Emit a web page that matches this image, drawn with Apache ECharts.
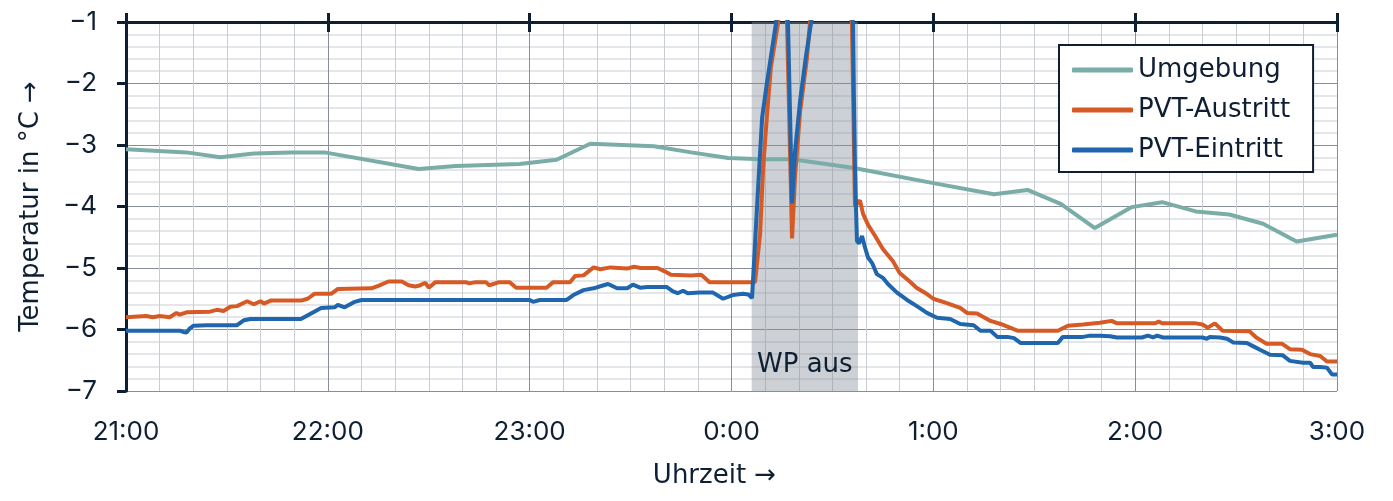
<!DOCTYPE html>
<html>
<head>
<meta charset="utf-8">
<script src="https://cdn.jsdelivr.net/npm/echarts@6/dist/echarts.min.js"></script>
<style>
html,body{margin:0;padding:0;background:#fff;}
#chart{width:1393px;height:501px;}
</style>
</head>
<body>
<div id="chart"></div>
<script>
// time in minutes after 21:00
const xTickHours = [21, 22, 23, 0, 1, 2, 3];
const seriesNames = ['Umgebung', 'PVT-Austritt', 'PVT-Eintritt'];
const wpAus = [186, 217.6];

const umgebung = [
  [0,-3.07],[18,-3.12],[28,-3.2],[38,-3.14],[49,-3.12],[59,-3.12],[87,-3.39],[98,-3.34],
  [117,-3.31],[128,-3.24],[138,-2.98],[157,-3.02],[168,-3.12],[179,-3.21],[189,-3.23],
  [198,-3.23],[216,-3.37],[240,-3.62],[258,-3.8],[268,-3.73],[278,-3.96],[288,-4.35],
  [299,-4.01],[308,-3.93],[318,-4.08],[328,-4.13],[338,-4.28],[348,-4.57],[360,-4.46]
];

const austritt = [
  [0,-5.8],[6,-5.78],[8,-5.8],[10,-5.78],[13,-5.8],[15,-5.73],[16,-5.76],[18,-5.72],[25,-5.71],
  [27,-5.68],[29,-5.7],[31,-5.63],[33,-5.62],[36,-5.54],[38,-5.59],[40,-5.54],[41,-5.58],
  [43,-5.53],[52,-5.53],[54,-5.5],[56,-5.42],[61,-5.42],[63,-5.34],[73,-5.33],[75,-5.29],
  [78,-5.22],[82,-5.22],[84,-5.28],[86,-5.3],[87,-5.29],[89,-5.24],[90,-5.32],[92,-5.23],
  [101,-5.23],[102,-5.25],[104,-5.23],[107,-5.23],[108,-5.28],[111,-5.23],[114,-5.23],
  [116,-5.32],[125,-5.32],[127,-5.23],[132,-5.23],[133.5,-5.13],[136,-5.12],[139,-4.99],
  [141,-5.02],[144,-4.99],[149,-5.01],[151,-4.98],[153,-5.0],[158,-5.0],[160,-5.05],
  [162,-5.11],[168,-5.12],[171,-5.11],[173.5,-5.23],[187,-5.23],
  [188.5,-4.45],[189.4,-3.37],[190.5,-2.55],[191.7,-1.74],[193.8,-1.03],[195.3,0],
  [196.5,-1.0],[198,-4.52],[198.9,-3.5],[200.4,-2.45],[202.4,-1.6],[203.3,-1.03],[209,1],
  [215.8,-1.0],[216.7,-4.0],[218.2,-3.9],[219.1,-4.12],[220.6,-4.3],[222.7,-4.48],[225,-4.69],
  [228,-4.89],[230,-5.08],[233,-5.22],[235,-5.32],[238,-5.42],[240,-5.5],[244,-5.57],
  [248,-5.65],[250,-5.73],[253,-5.74],[257,-5.86],[260,-5.91],[265,-6.02],[277,-6.02],
  [280,-5.94],[284.5,-5.92],[289.5,-5.89],[293,-5.86],[294.6,-5.9],[306,-5.9],[307,-5.87],
  [308,-5.9],[318,-5.9],[320,-5.92],[321.6,-5.97],[323.7,-5.9],[326,-6.02],[334,-6.03],
  [336,-6.13],[339,-6.23],[343.6,-6.23],[346,-6.32],[349.6,-6.33],[352,-6.4],[355,-6.43],
  [357,-6.52],[360,-6.52]
];

const eintritt = [
  [0,-6.02],[16,-6.02],[17,-6.04],[18,-6.05],[19,-5.98],[20,-5.94],[24,-5.93],[33,-5.93],
  [35,-5.85],[37,-5.83],[52,-5.83],[55,-5.74],[58,-5.65],[62,-5.64],[63,-5.6],[65,-5.64],
  [68,-5.55],[70,-5.52],[120,-5.52],[121,-5.55],[123,-5.52],[131,-5.52],[133,-5.44],
  [136,-5.36],[139,-5.33],[142,-5.28],[143.3,-5.26],[146,-5.33],[149,-5.33],[150.7,-5.27],
  [152.8,-5.32],[155,-5.31],[160.8,-5.31],[162.6,-5.38],[164,-5.41],[165.6,-5.37],[167,-5.41],
  [170.6,-5.4],[174.5,-5.4],[177.5,-5.5],[180.4,-5.44],[183.4,-5.42],[185,-5.43],[186.1,-5.49],
  [186.4,-5.2],[187.9,-3.7],[189.1,-2.56],[190.5,-2.0],[192,-1.46],[193.2,-1.03],[195,0],
  [196.8,-1.03],[198,-3.95],[198.9,-3.1],[200.4,-2.28],[202.1,-1.57],[203.6,-1.03],[209,1],
  [216.1,-1.0],[216.4,-2.28],[216.7,-3.37],[217,-4.0],[217.3,-4.56],[217.9,-4.6],[218.8,-4.48],
  [219.7,-4.67],[220.6,-4.83],[221.8,-4.92],[223.2,-5.1],[225,-5.16],[226.5,-5.26],[229.2,-5.4],
  [232.2,-5.52],[235.1,-5.62],[238.1,-5.73],[241.1,-5.81],[245,-5.83],[248,-5.91],[252,-5.93],
  [254,-6.02],[257,-6.02],[259,-6.12],[262,-6.12],[264,-6.14],[266,-6.22],[277,-6.22],
  [278.5,-6.12],[284.5,-6.12],[286.6,-6.1],[289.5,-6.1],[292.5,-6.11],[294.6,-6.13],[302,-6.13],
  [303.8,-6.1],[305.3,-6.13],[306.5,-6.1],[308.3,-6.13],[320,-6.13],[321.3,-6.15],[322.2,-6.12],
  [325.2,-6.13],[327.3,-6.15],[329.1,-6.21],[333.2,-6.22],[335,-6.27],[337.1,-6.33],[340.1,-6.41],
  [343.9,-6.42],[346,-6.51],[349.9,-6.54],[352,-6.54],[352.9,-6.61],[355,-6.61],[357,-6.62],
  [358.5,-6.73],[360,-6.73]
];

const colors = ['#7bada8', '#d65a26', '#1f66ae'];
const ink = '#0f1f33';
const FONT_NUM = 'Inter, "Noto Sans", sans-serif';
const FONT_TXT = '"DejaVu Sans", "Noto Sans", sans-serif';

const chart = echarts.init(document.getElementById('chart'));
const hourLabel = v => {
  const idx = Math.round(v / 60);
  return xTickHours[idx] + ':00';
};
const baseX = { type: 'value', min: 0, max: 360, interval: 60, gridIndex: 0 };

chart.setOption({
  backgroundColor: '#fff',
  animation: false,
  textStyle: { fontFamily: FONT_TXT, color: ink },
  grid: { left: 126, right: 56, top: 22, bottom: 110, containLabel: false },
  legend: {
    data: seriesNames,
    orient: 'vertical',
    left: 1059, top: 45,
    padding: [11, 23, 8, 13],
    backgroundColor: '#fff',
    borderColor: ink, borderWidth: 2, borderRadius: 0,
    itemWidth: 61, itemHeight: 5, itemGap: 12,
    icon: 'roundRect',
    textStyle: { fontFamily: FONT_TXT, fontSize: 26, color: ink, lineHeight: 28 }
  },
  xAxis: [
    Object.assign({}, baseX, {
      position: 'bottom',
      axisLine: { show: false }, axisTick: { show: false },
      axisLabel: { fontSize: 26, color: ink, margin: 28, formatter: hourLabel, fontFamily: FONT_NUM },
      splitLine: { show: true, lineStyle: { color: '#878d99', width: 1 } },
      minorTick: { show: false, splitNumber: 6 },
      minorSplitLine: { show: true, lineStyle: { color: '#c9ccd3', width: 1 } },
      name: 'Uhrzeit →', nameLocation: 'middle', nameGap: 72,
      nameTextStyle: { fontSize: 26, color: ink, fontFamily: FONT_TXT, padding: [0, 34, 0, 0] }
    }),
    Object.assign({}, baseX, {
      position: 'top',
      axisLine: { show: true, onZero: false, lineStyle: { color: ink, width: 3 } },
      axisTick: { show: true, inside: false, length: 9, lineStyle: { color: ink, width: 3 } },
      axisLabel: { show: false }, splitLine: { show: false }
    }),
    Object.assign({}, baseX, {
      position: 'top',
      axisLine: { show: false },
      axisTick: { show: true, inside: true, length: 10, lineStyle: { color: ink, width: 3 } },
      axisLabel: { show: false }, splitLine: { show: false }
    })
  ],
  yAxis: {
    type: 'value', min: -7, max: -1, interval: 1,
    axisLine: { show: true, onZero: false, lineStyle: { color: ink, width: 3 } },
    axisTick: { show: true, inside: false, length: 9, lineStyle: { color: ink, width: 3 } },
    axisLabel: { fontSize: 26, color: ink, margin: 29, fontFamily: FONT_NUM,
      formatter: v => String(v).replace('-', '\u2212') },
    splitLine: { show: true, lineStyle: { color: '#878d99', width: 1 } },
    minorTick: { show: false, splitNumber: 5 },
    minorSplitLine: { show: true, lineStyle: { color: '#dcdee3', width: 1.5 } },
    name: 'Temperatur in °C →', nameLocation: 'middle', nameGap: 82, nameRotate: 90,
    nameTextStyle: { fontSize: 26, color: ink, fontFamily: FONT_TXT }
  },
  series: [
    {
      name: 'WP aus', type: 'line', data: [], z: 1,
      markArea: {
        silent: true,
        itemStyle: { color: 'rgba(135,142,156,0.42)' },
        label: { show: true, position: 'insideBottom', distance: 13, fontSize: 26,
          color: ink, fontFamily: FONT_TXT },
        data: [[{ name: 'WP aus', xAxis: wpAus[0], yAxis: -1 }, { xAxis: wpAus[1], yAxis: -7 }]]
      }
    },
    { name: seriesNames[0], type: 'line', data: umgebung, showSymbol: false, symbol: 'none',
      lineStyle: { color: colors[0], width: 4 }, itemStyle: { color: colors[0] }, z: 3, clip: true },
    { name: seriesNames[1], type: 'line', data: austritt, showSymbol: false, symbol: 'none',
      lineStyle: { color: colors[1], width: 4 }, itemStyle: { color: colors[1] }, z: 4, clip: true },
    { name: seriesNames[2], type: 'line', data: eintritt, showSymbol: false, symbol: 'none',
      lineStyle: { color: colors[2], width: 4 }, itemStyle: { color: colors[2] }, z: 5, clip: true }
  ]
});
</script>
</body>
</html>
